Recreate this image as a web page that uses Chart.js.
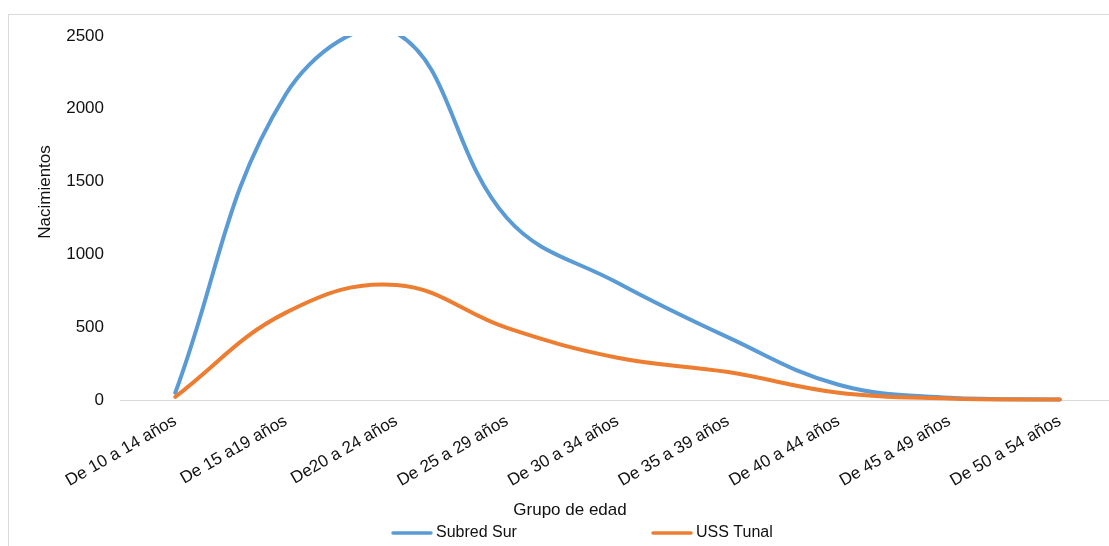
<!DOCTYPE html>
<html>
<head>
<meta charset="utf-8">
<script src="https://cdn.jsdelivr.net/npm/chart.js@4.4.1/dist/chart.umd.min.js"></script>
<style>
  html, body { margin: 0; padding: 0; background: #fff; overflow: hidden; width: 1109px; height: 546px; }
  #frame { position: absolute; left: 8px; top: 14px; width: 1200px; height: 600px; border: 1px solid #d9d9d9; box-sizing: border-box; }
  #chart { position: absolute; left: 0; top: 0; }
</style>
</head>
<body>
<div id="frame"></div>
<canvas id="chart" width="1125" height="546"></canvas>
<script>
// Age groups on the x axis
const categories = [
  'De 10 a 14 años', 'De 15 a19 años', 'De20 a 24 años', 'De 25 a 29 años',
  'De 30 a 34 años', 'De 35 a 39 años', 'De 40 a 44 años', 'De 45 a 49 años',
  'De 50 a 54 años'
];

// Births per age group
const subredSur = [50, 2100, 2520, 1250, 805, 430, 105, 16, 4];
const ussTunal  = [22, 600, 790, 495, 290, 192, 50, 10, 3];

// Series names
const seriesNames = ['Subred Sur', 'USS Tunal'];

// Value axis ticks
const yTicks = [0, 500, 1000, 1500, 2000, 2500];

const xTitle = 'Grupo de edad';
const yTitle = 'Nacimientos';

const FONT = "'Liberation Sans', Arial, Helvetica, sans-serif";
const TEXT = '#111111';
const COLORS = ['#5B9BD5', '#ED7D31'];

// Axis titles and a bottom legend laid out like the office chart
const decorations = {
  id: 'decorations',
  afterDraw(chart) {
    const ctx = chart.ctx;
    ctx.save();
    ctx.fillStyle = TEXT;
    ctx.font = '17px ' + FONT;
    ctx.textAlign = 'center';
    ctx.textBaseline = 'middle';
    ctx.fillText(xTitle, 570, 510);

    ctx.save();
    ctx.translate(45, 192);
    ctx.rotate(-Math.PI / 2);
    ctx.fillText(yTitle, 0, 0);
    ctx.restore();

    ctx.font = '16px ' + FONT;
    ctx.textAlign = 'left';
    chart.data.datasets.forEach((ds, i) => {
      const x0 = 392 + i * 260;
      const y = 533;
      ctx.strokeStyle = ds.borderColor;
      ctx.lineWidth = 3.5;
      ctx.lineCap = 'round';
      ctx.beginPath();
      ctx.moveTo(x0 + 1, y);
      ctx.lineTo(x0 + 39, y);
      ctx.stroke();
      ctx.fillText(ds.label, x0 + 44, y);
    });
    ctx.restore();
  }
};

new Chart(document.getElementById('chart'), {
  type: 'line',
  data: {
    labels: categories,
    datasets: [
      {
        label: seriesNames[0],
        data: subredSur,
        borderColor: COLORS[0],
        backgroundColor: COLORS[0],
        order: 1
      },
      {
        label: seriesNames[1],
        data: ussTunal,
        borderColor: COLORS[1],
        backgroundColor: COLORS[1],
        order: 0
      }
    ]
  },
  options: {
    responsive: false,
    animation: false,
    devicePixelRatio: 1,
    layout: { padding: { left: 56, right: 10, top: 36, bottom: 0 } },
    elements: {
      line: { borderWidth: 4, tension: 0.4, fill: false, borderCapStyle: 'round', borderJoinStyle: 'round' },
      point: { radius: 0, hoverRadius: 0 }
    },
    datasets: {
      line: { clip: { left: 5, right: 5, top: 0, bottom: 5 } }
    },
    plugins: {
      legend: { display: false },
      tooltip: { enabled: false },
      title: { display: false }
    },
    scales: {
      x: {
        type: 'category',
        offset: true,
        grid: { display: false, drawTicks: false },
        border: { display: true, color: '#d9d9d9', width: 1 },
        ticks: {
          autoSkip: false,
          minRotation: 30,
          maxRotation: 30,
          padding: 11,
          color: TEXT,
          font: { family: FONT, size: 17 }
        },
        afterFit(scale) { scale.height = 146; }
      },
      y: {
        min: yTicks[0],
        max: yTicks[yTicks.length - 1],
        grid: { display: false, drawTicks: false },
        border: { display: false },
        ticks: {
          stepSize: yTicks[1] - yTicks[0],
          padding: 16,
          color: TEXT,
          font: { family: FONT, size: 17 },
          callback: (value) => String(value)
        },
        afterBuildTicks(scale) { scale.ticks = yTicks.map(v => ({ value: v })); },
        afterFit(scale) { scale.width = 64; }
      }
    }
  },
  plugins: [decorations]
});
</script>
</body>
</html>
